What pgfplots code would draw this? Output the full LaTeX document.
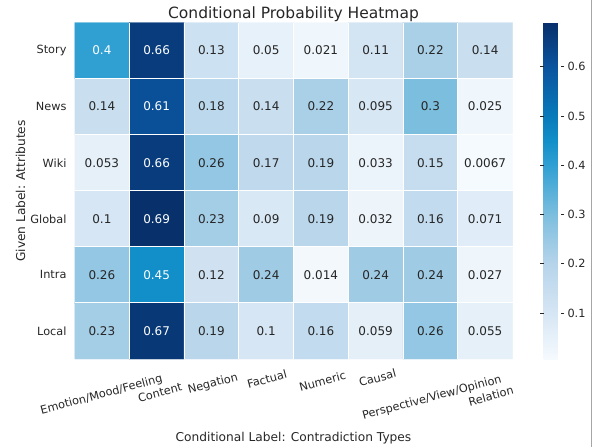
\documentclass[border=0pt]{standalone}
\usepackage{fontspec}
\setmainfont{DejaVu Sans}
\usepackage{pgfplots}
\pgfplotsset{compat=1.18}
\usepackage{pgfplotstable}
\definecolor{txt}{HTML}{262626}
\newcommand\tickfont{\fontsize{11.3bp}{13bp}\selectfont}
\newcommand\cellfont{\fontsize{12bp}{14bp}\selectfont}
\newcommand\labfont{\fontsize{12.2bp}{14bp}\selectfont}
\newcommand\titlefont{\fontsize{15.5bp}{18bp}\selectfont}

\pgfplotsset{colormap={blues}{rgb255(7)=(245,250,254) rgb255(100)=(214,230,244) rgb255(200)=(182,212,234) rgb255(300)=(124,190,222) rgb255(400)=(48,160,211) rgb255(450)=(18,143,200) rgb255(500)=(8,122,186) rgb255(600)=(10,84,158) rgb255(690)=(8,48,107)}}

\pgfplotstableread{
x y c
0 0 0.4
1 0 0.66
2 0 0.13
3 0 0.05
4 0 0.021
5 0 0.11
6 0 0.22
7 0 0.14
0 1 0.14
1 1 0.61
2 1 0.18
3 1 0.14
4 1 0.22
5 1 0.095
6 1 0.3
7 1 0.025
0 2 0.053
1 2 0.66
2 2 0.26
3 2 0.17
4 2 0.19
5 2 0.033
6 2 0.15
7 2 0.0067
0 3 0.1
1 3 0.69
2 3 0.23
3 3 0.09
4 3 0.19
5 3 0.032
6 3 0.16
7 3 0.071
0 4 0.26
1 4 0.45
2 4 0.12
3 4 0.24
4 4 0.014
5 4 0.24
6 4 0.24
7 4 0.027
0 5 0.23
1 5 0.67
2 5 0.19
3 5 0.1
4 5 0.16
5 5 0.059
6 5 0.26
7 5 0.055
}\heat

% annotations on dark cells (white text)
\pgfplotstableread{
x y c
0 0 0.4
1 0 0.66
1 1 0.61
1 2 0.66
1 3 0.69
1 4 0.45
1 5 0.67
}\darkcells

% annotations on light cells (dark text)
\pgfplotstableread{
x y c
2 0 0.13
3 0 0.05
4 0 0.021
5 0 0.11
6 0 0.22
7 0 0.14
0 1 0.14
2 1 0.18
3 1 0.14
4 1 0.22
5 1 0.095
6 1 0.3
7 1 0.025
0 2 0.053
2 2 0.26
3 2 0.17
4 2 0.19
5 2 0.033
6 2 0.15
7 2 0.0067
0 3 0.1
2 3 0.23
3 3 0.09
4 3 0.19
5 3 0.032
6 3 0.16
7 3 0.071
0 4 0.26
2 4 0.12
3 4 0.24
4 4 0.014
5 4 0.24
6 4 0.24
7 4 0.027
0 5 0.23
2 5 0.19
3 5 0.1
4 5 0.16
5 5 0.059
6 5 0.26
7 5 0.055
}\lightcells

\begin{document}
\begin{tikzpicture}
\useasboundingbox (0,0) rectangle (592bp,447bp);
\begin{axis}[
  at={(74.5bp,88bp)}, anchor=south west,
  scale only axis, width=438bp, height=336.5bp,
  xmin=-0.5, xmax=7.5, ymin=-0.5, ymax=5.5, y dir=reverse,
  enlargelimits=false,
  xtick={0,...,7}, xticklabels={},
  ytick={0,...,5}, yticklabels={Story,News,Wiki,Global,Intra,Local},
  yticklabel style={font=\tickfont, text=txt, xshift=-4.5bp},
  major tick length=0pt, minor tick length=0pt,
  minor xtick={0.5,1.5,...,6.5}, minor ytick={0.5,1.5,...,4.5},
  xminorgrids, yminorgrids, minor grid style={white, line width=1bp},
  axis line style={draw=none},
  axis on top,
  colormap name=blues,
  point meta min=0.0067, point meta max=0.69,
  colorbar,
  colorbar style={
    at={(parent axis.north east)}, anchor=north west, xshift=22.5bp,
    width=17bp,
    ytick={0.1,0.2,0.3,0.4,0.5,0.6},
    yticklabel style={font=\tickfont, text=txt, /pgf/number format/fixed, /pgf/number format/precision=1, /pgf/number format/assume math mode=true},
    major tick length=3.5bp, tick align=outside,
    tick style={color=txt, line width=0.8bp},
    axis line style={draw=none},
  },
]
\addplot[matrix plot*, mesh/cols=8, point meta=explicit] table[meta=c] {\heat};
\addplot[draw=none, mark=none, point meta=explicit symbolic,
  nodes near coords,
  every node near coord/.append style={font=\cellfont, text=white, anchor=center}]
  table[meta=c] {\darkcells};
\addplot[draw=none, mark=none, point meta=explicit symbolic,
  nodes near coords,
  every node near coord/.append style={font=\cellfont, text=txt, anchor=center}]
  table[meta=c] {\lightcells};
\end{axis}
\begin{scope}[every node/.style={font=\tickfont, text=txt, rotate=15, anchor=center, inner sep=0pt}]
\node at (101.5bp,52bp) {Emotion/Mood/Feeling};
\node at (160bp,54.5bp) {Content};
\node at (213bp,63bp) {Negation};
\node at (267bp,68bp) {Factual};
\node at (322.5bp,66bp) {Numeric};
\node at (377.5bp,69bp) {Causal};
\node at (432bp,49bp) {Perspective/View/Opinion};
\node at (491bp,51bp) {Relation};
\end{scope}
\node[font=\titlefont, text=txt, anchor=base] at (293.5bp,428.7bp) {Conditional Probability Heatmap};
\node[font=\labfont, text=txt, anchor=base] at (293.5bp,5.5bp) {Conditional Label: Contradiction Types};
\node[font=\labfont, text=txt, anchor=base, rotate=90] at (25bp,256bp) {Given Label: Attributes};
\draw[black!35, line width=1bp] (591.5bp,0) -- (591.5bp,447bp);
\end{tikzpicture}
\end{document}
